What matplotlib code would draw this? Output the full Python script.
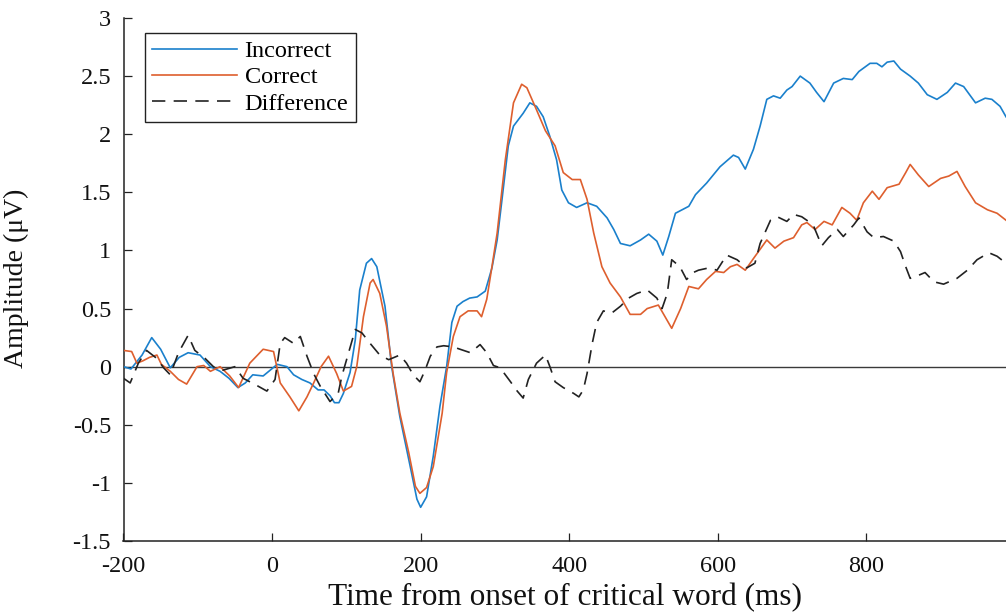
import matplotlib
matplotlib.use("Agg")
import matplotlib.pyplot as plt

# ---- data ----
t_incorrect = [-200, -190, -175, -162, -150, -137, -125, -113, -97, -83, -70, -58, -46, -36, -26, -12,
               7, 20, 29, 40, 51, 62, 70, 78, 84, 90, 96, 105, 112, 118, 127, 134, 141, 152, 161, 172,
               186, 195, 200, 208, 217, 226, 235, 242, 249, 257, 266, 276, 287, 296, 303, 309, 318, 325,
               338, 347, 356, 365, 374, 383, 390, 399, 410, 424, 437, 451, 460, 469, 482, 496, 507, 518,
               526, 534, 543, 561, 570, 585, 603, 621, 628, 637, 648, 657, 666, 675, 684, 693, 700, 711,
               724, 733, 743, 756, 769, 781, 790, 805, 814, 821, 828, 837, 846, 859, 870, 882, 895, 909,
               920, 931, 947, 960, 969, 980, 988]
v_incorrect = [0.00, -0.02, 0.10, 0.25, 0.15, -0.01, 0.08, 0.12, 0.10, 0.00, -0.04, -0.10, -0.18, -0.14,
               -0.07, -0.08, 0.02, 0.00, -0.07, -0.11, -0.14, -0.20, -0.20, -0.25, -0.31, -0.31, -0.23,
               -0.05, 0.23, 0.66, 0.89, 0.93, 0.86, 0.52, 0.00, -0.43, -0.86, -1.14, -1.21, -1.12, -0.77,
               -0.34, 0.00, 0.38, 0.52, 0.56, 0.59, 0.60, 0.65, 0.85, 1.09, 1.41, 1.90, 2.07, 2.18, 2.27,
               2.24, 2.15, 1.98, 1.78, 1.52, 1.41, 1.37, 1.41, 1.38, 1.28, 1.18, 1.06, 1.04, 1.09, 1.14,
               1.08, 0.96, 1.12, 1.32, 1.38, 1.48, 1.58, 1.72, 1.82, 1.80, 1.70, 1.87, 2.07, 2.30, 2.33,
               2.31, 2.38, 2.41, 2.50, 2.44, 2.36, 2.28, 2.44, 2.48, 2.47, 2.54, 2.61, 2.61, 2.58, 2.62,
               2.63, 2.56, 2.50, 2.44, 2.34, 2.30, 2.36, 2.44, 2.41, 2.27, 2.31, 2.30, 2.24, 2.15]

t_correct = [-200, -189, -182, -174, -165, -155, -149, -137, -126, -115, -101, -92, -83, -70, -57, -45,
             -30, -12, 2, 11, 24, 36, 47, 56, 66, 76, 87, 96, 107, 114, 123, 132, 136, 145, 154, 163,
             172, 184, 193, 199, 208, 217, 229, 235, 244, 253, 264, 276, 282, 289, 296, 303, 314, 325,
             336, 343, 356, 368, 381, 392, 404, 415, 424, 433, 444, 455, 469, 482, 496, 505, 520, 529,
             538, 550, 561, 574, 585, 597, 608, 617, 626, 637, 648, 657, 666, 677, 689, 702, 713, 720,
             731, 743, 754, 767, 778, 787, 796, 808, 817, 828, 844, 853, 859, 870, 884, 900, 911, 922,
             933, 947, 963, 976, 988]
v_correct = [0.14, 0.13, 0.03, 0.05, 0.08, 0.10, 0.02, -0.04, -0.11, -0.15, 0.00, 0.01, -0.04, 0.00,
             -0.08, -0.18, 0.03, 0.15, 0.13, -0.14, -0.26, -0.38, -0.26, -0.14, 0.00, 0.09, -0.06, -0.21,
             -0.17, 0.00, 0.43, 0.72, 0.75, 0.63, 0.35, -0.06, -0.40, -0.74, -1.03, -1.09, -1.04, -0.86,
             -0.40, -0.05, 0.26, 0.43, 0.48, 0.48, 0.43, 0.58, 0.86, 1.15, 1.78, 2.27, 2.43, 2.40, 2.21,
             2.03, 1.90, 1.67, 1.61, 1.61, 1.44, 1.15, 0.86, 0.72, 0.60, 0.45, 0.45, 0.50, 0.53, 0.43,
             0.33, 0.50, 0.69, 0.67, 0.75, 0.82, 0.81, 0.86, 0.88, 0.83, 0.93, 1.01, 1.09, 1.02, 1.08,
             1.11, 1.22, 1.24, 1.18, 1.25, 1.22, 1.37, 1.32, 1.26, 1.41, 1.51, 1.44, 1.54, 1.57, 1.67,
             1.74, 1.65, 1.55, 1.62, 1.64, 1.68, 1.55, 1.41, 1.35, 1.32, 1.26]

t_difference = [-200, -191, -180, -169, -155, -146, -137, -126, -113, -104, -90, -79, -66, -50, -39, -21,
                -7, 4, 11, 17, 29, 38, 47, 56, 65, 78, 89, 94, 103, 112, 121, 132, 145, 157, 172, 181,
                190, 199, 206, 213, 222, 231, 244, 253, 267, 280, 289, 298, 307, 321, 330, 338, 345, 356,
                368, 374, 381, 392, 406, 413, 419, 424, 431, 437, 446, 457, 469, 480, 491, 505, 518, 525,
                532, 538, 549, 558, 567, 574, 588, 599, 612, 626, 639, 650, 657, 671, 680, 693, 702, 713,
                722, 729, 740, 749, 761, 769, 783, 790, 801, 810, 823, 837, 846, 853, 859, 868, 879, 891,
                904, 922, 936, 949, 965, 976, 988]
v_difference = [-0.10, -0.14, 0.03, 0.14, 0.07, -0.01, -0.07, 0.12, 0.27, 0.14, 0.07, 0.00, -0.03, 0.00,
                -0.10, -0.16, -0.21, -0.11, 0.20, 0.25, 0.20, 0.26, 0.09, -0.06, -0.17, -0.30, -0.23,
                -0.08, 0.12, 0.32, 0.29, 0.20, 0.10, 0.06, 0.10, 0.03, -0.07, -0.13, -0.03, 0.09, 0.17,
                0.18, 0.17, 0.15, 0.12, 0.19, 0.12, 0.01, -0.01, -0.13, -0.21, -0.27, -0.11, 0.03, 0.10,
                0.00, -0.13, -0.18, -0.23, -0.26, -0.20, -0.06, 0.20, 0.38, 0.48, 0.46, 0.52, 0.59, 0.63,
                0.66, 0.59, 0.50, 0.63, 0.92, 0.86, 0.75, 0.81, 0.83, 0.85, 0.83, 0.96, 0.92, 0.85, 0.89,
                1.06, 1.26, 1.29, 1.25, 1.31, 1.29, 1.25, 1.21, 1.04, 1.11, 1.18, 1.12, 1.22, 1.28, 1.16,
                1.11, 1.12, 1.08, 0.99, 0.86, 0.76, 0.78, 0.81, 0.73, 0.71, 0.76, 0.83, 0.92, 0.98, 0.95,
                0.89]

series_labels = ["Incorrect", "Correct", "Difference"]
x_ticks = [-200, 0, 200, 400, 600, 800]
x_tick_labels = ["-200", "0", "200", "400", "600", "800"]
y_ticks = [-1.5, -1, -0.5, 0, 0.5, 1, 1.5, 2, 2.5, 3]
y_tick_labels = ["-1.5", "-1", "-0.5", "0", "0.5", "1", "1.5", "2", "2.5", "3"]

# ---- styling ----
plt.rcParams['font.family'] = ['Liberation Serif', 'DejaVu Serif']
plt.rcParams['axes.unicode_minus'] = False

fig = plt.figure(figsize=(10.06, 6.15), dpi=100)
ax = fig.add_axes([123.5 / 1006, 74 / 615, 1 - 123.5 / 1006, 523 / 615])

ax.axhline(0, color='#3a3a3a', lw=1.0, zorder=1)
ax.plot(t_incorrect, v_incorrect, color='#1A80CC', lw=1.2, label=series_labels[0], zorder=3)
ax.plot(t_correct, v_correct, color='#DE5F2E', lw=1.2, label=series_labels[1], zorder=3)
ax.plot(t_difference, v_difference, color='#222222', lw=1.2, dashes=(8, 5),
        label=series_labels[2], zorder=4)

ax.set_xlim(-200, 988)
ax.set_ylim(-1.5, 3)
ax.set_xticks(x_ticks)
ax.set_xticklabels(x_tick_labels)
ax.set_yticks(y_ticks)
ax.set_yticklabels(y_tick_labels)

for s in ['top', 'right']:
    ax.spines[s].set_visible(False)
for s in ['left', 'bottom']:
    ax.spines[s].set_linewidth(1.1)
    ax.spines[s].set_color('#222222')

ax.tick_params(direction='in', length=6, width=0.9, labelsize=17.5, colors='#222222',
               labelcolor='#111111')
ax.tick_params(axis='y', pad=9)
ax.tick_params(axis='x', pad=11)

ax.set_xlabel("Time from onset of critical word (ms)", fontsize=22.5, color='#111111', labelpad=4)
ax.set_ylabel("Amplitude (\u03bcV)", fontsize=20, color='#111111')
ax.yaxis.set_label_coords(-(123.5 - 29) / (1006 - 123.5), (615 - 278 - 74) / 523)

leg = ax.legend(loc='upper left', bbox_to_anchor=(145 / 1006, 1 - 33 / 615),
                bbox_transform=fig.transFigure, borderaxespad=0, fontsize=17.5,
                handlelength=3.5, handletextpad=0.3, labelspacing=0.17, borderpad=0.3,
                fancybox=False, framealpha=1, edgecolor='#222222')
leg.get_frame().set_linewidth(1.0)

fig.savefig("out.png", dpi=100)
